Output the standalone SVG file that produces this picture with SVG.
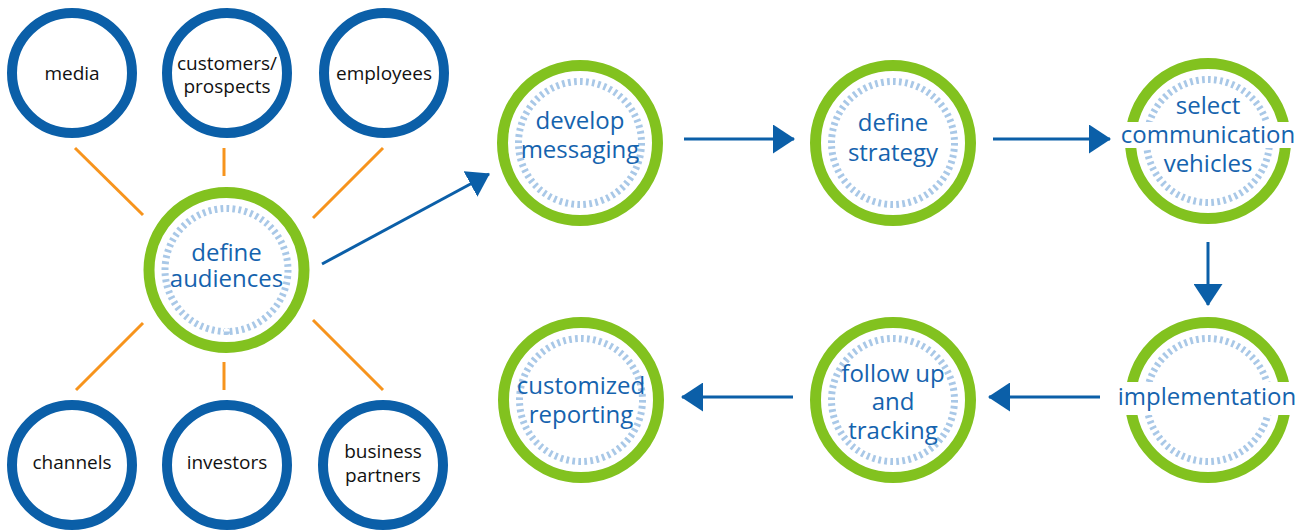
<svg xmlns="http://www.w3.org/2000/svg" width="1308" height="531" viewBox="0 0 1308 531">
<defs>
<style>
.aud{fill:#fff;stroke:#0b5fa8;stroke-width:10}
.step{fill:#fff;stroke:#82c21f;stroke-width:11}
.ring{fill:none;stroke:#a9c8e7;stroke-width:7;stroke-dasharray:0.45 0.55}
.bt{font-family:"Open Sans","Liberation Sans",sans-serif;font-size:19px;fill:#111;text-anchor:middle}
.st{font-family:"Open Sans","Liberation Sans",sans-serif;font-size:24px;fill:#1563ae;text-anchor:middle}
.or{stroke:#f7941d;stroke-width:3;fill:none}
.ar{stroke:#0b5fa8;stroke-width:3;fill:none;marker-end:url(#ah)}
</style>
<marker id="ah" markerUnits="userSpaceOnUse" markerWidth="22" markerHeight="29" refX="21" refY="14.5" orient="auto" viewBox="0 0 22 29">
<path d="M0,0 L22,14.5 L0,29 z" fill="#0b5fa8"/>
</marker>
</defs>
<rect width="1308" height="531" fill="#fff"/>
<g id="connectors">
<line class="or" x1="75" y1="148" x2="143" y2="215"/>
<line class="or" x1="224" y1="148" x2="224" y2="176"/>
<line class="or" x1="383" y1="148" x2="313" y2="218"/>
<line class="or" x1="143" y1="323" x2="76" y2="390"/>
<line class="or" x1="224" y1="362" x2="224" y2="390"/>
<line class="or" x1="313" y1="320" x2="383" y2="390"/>
<line class="ar" x1="322" y1="264" x2="489" y2="174"/>
<line class="ar" x1="684" y1="139" x2="794" y2="139"/>
<line class="ar" x1="993" y1="139" x2="1110" y2="139"/>
<line class="ar" x1="1208" y1="242" x2="1208" y2="305"/>
<line class="ar" x1="1100" y1="397" x2="989" y2="397"/>
<line class="ar" x1="793" y1="397" x2="682" y2="397"/>
</g>
<g id="media"><circle class="aud" cx="72" cy="73" r="60"/><text class="bt" x="72" y="80">media</text></g>
<g id="customers"><circle class="aud" cx="227" cy="73" r="60"/><text class="bt" x="227" y="70">customers/</text><text class="bt" x="227" y="93">prospects</text></g>
<g id="employees"><circle class="aud" cx="384" cy="73" r="60"/><text class="bt" x="384" y="80">employees</text></g>
<g id="channels"><circle class="aud" cx="72" cy="465" r="60"/><text class="bt" x="72" y="469">channels</text></g>
<g id="investors"><circle class="aud" cx="227" cy="465" r="60"/><text class="bt" x="227" y="469">investors</text></g>
<g id="business"><circle class="aud" cx="383" cy="465" r="60"/><text class="bt" x="383" y="458">business</text><text class="bt" x="383" y="482">partners</text></g>
<g id="define-audiences"><circle class="step" cx="226.5" cy="270" r="77.5"/><circle class="ring" cx="226.5" cy="270" r="61.5" pathLength="64"/><text class="st" x="226.5" y="261">define</text><text class="st" x="226.5" y="287">audiences</text></g>
<g id="develop-messaging"><circle class="step" cx="580" cy="143" r="77.5"/><circle class="ring" cx="580" cy="143" r="61.5" pathLength="64"/><text class="st" x="580" y="129">develop</text><text class="st" x="580" y="158">messaging</text></g>
<g id="define-strategy"><circle class="step" cx="893" cy="143" r="77.5"/><circle class="ring" cx="893" cy="143" r="61.5" pathLength="64"/><text class="st" x="893" y="131">define</text><text class="st" x="893" y="161">strategy</text></g>
<g id="select-vehicles"><circle class="step" cx="1208" cy="141" r="77.5"/><circle class="ring" cx="1208" cy="141" r="61.5" pathLength="64"/><rect x="1114" y="122" width="180" height="26" fill="#fff"/><text class="st" x="1208" y="114">select</text><text class="st" x="1208" y="143">communication</text><text class="st" x="1208" y="172">vehicles</text></g>
<g id="implementation"><circle class="step" cx="1208" cy="400" r="77.5"/><circle class="ring" cx="1208" cy="400" r="61.5" pathLength="64"/><rect x="1114" y="382" width="184" height="33" fill="#fff"/><text class="st" x="1207" y="405">implementation</text></g>
<g id="follow-up"><circle class="step" cx="893" cy="400" r="77.5"/><circle class="ring" cx="893" cy="400" r="61.5" pathLength="64"/><text class="st" x="893" y="382">follow up</text><text class="st" x="893" y="410">and</text><text class="st" x="893" y="439">tracking</text></g>
<g id="customized-reporting"><circle class="step" cx="581" cy="400" r="77.5"/><circle class="ring" cx="581" cy="400" r="61.5" pathLength="64"/><text class="st" x="581" y="394">customized</text><text class="st" x="581" y="423">reporting</text></g>
</svg>
